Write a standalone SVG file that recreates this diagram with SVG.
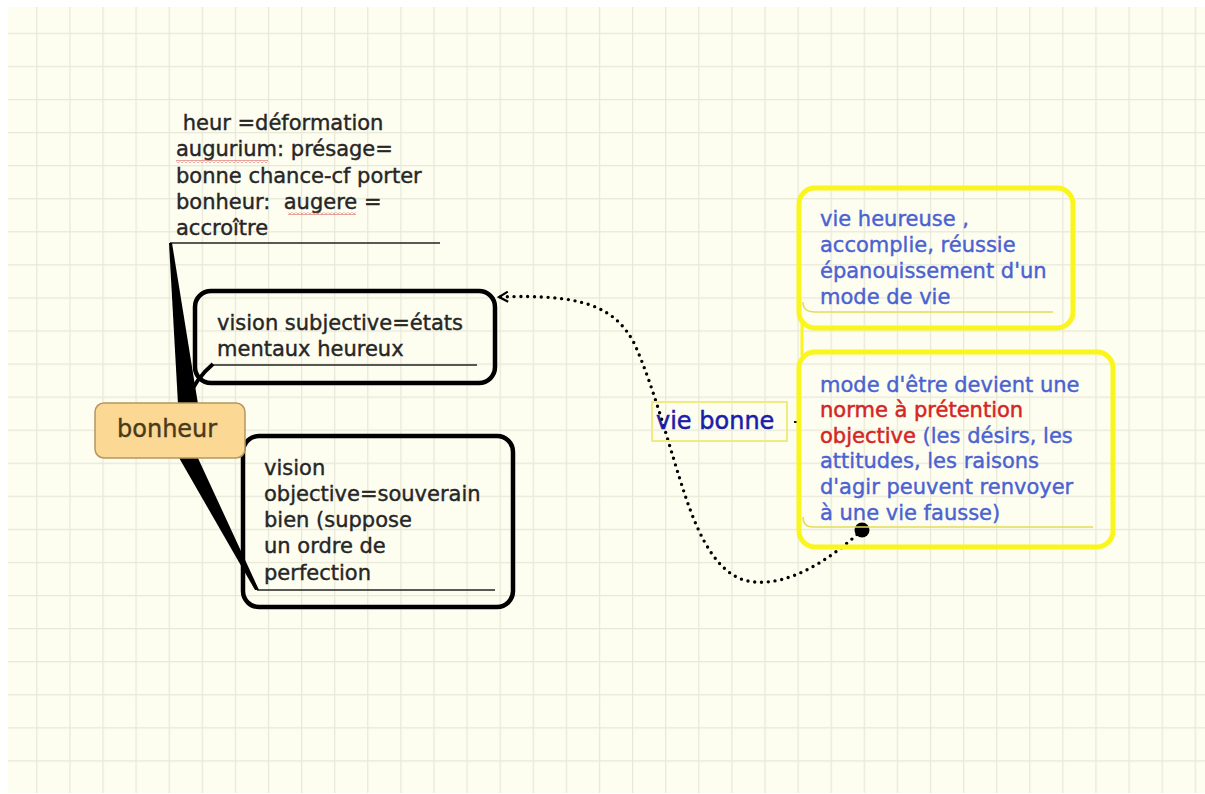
<svg xmlns="http://www.w3.org/2000/svg" width="1205" height="794" viewBox="0 0 1205 794">
<defs>
<pattern id="grid" patternUnits="userSpaceOnUse" x="3.1" y="-0.3" width="33.1" height="33.07">
<path d="M0,0.6 L33.1,0.6 M0.6,0 L0.6,33.07" stroke="#e8e8d8" stroke-width="1.2" fill="none"/>
</pattern>
<pattern id="squig" patternUnits="userSpaceOnUse" x="0" y="0" width="4" height="3">
<path d="M0,2.5 L2,0.5 L4,2.5" stroke="#d04848" stroke-width="1" fill="none"/>
</pattern>
<marker id="openArrow" viewBox="0 0 12 12" refX="10" refY="6" markerWidth="12" markerHeight="12" markerUnits="userSpaceOnUse" orient="auto">
<path d="M1,1 L10,6 L1,11" fill="none" stroke="#000" stroke-width="2.2"/>
</marker>
</defs>
<style>
text{font-family:"DejaVu Sans","Liberation Sans",sans-serif;font-size:21px;}
.dark{fill:#262626;stroke:#262626;stroke-width:0.4;}
.blue{fill:#4a62d2;stroke:#4a62d2;stroke-width:0.4;}
.red{fill:#d42626;stroke:#d42626;stroke-width:0.5;}
.blk{fill:none;stroke:#000;stroke-width:4.5;}
.ylw{fill:none;stroke:#faf51c;stroke-width:5;}
.uline{fill:none;stroke:#222;stroke-width:1.5;}
.yline{fill:none;stroke:#e4dc58;stroke-width:1.5;}
</style>
<rect x="0" y="0" width="1205" height="794" fill="#ffffff"/>
<rect x="8" y="7" width="1197" height="786" fill="#fdfdf0"/>
<rect x="8" y="7" width="1197" height="786" fill="url(#grid)"/>

<g id="note-etymologie">
<text class="dark" x="176" y="130" xml:space="preserve"> heur =déformation</text>
<text class="dark" x="176" y="156">augurium: présage=</text>
<text class="dark" x="176" y="183">bonne chance-cf porter</text>
<text class="dark" x="176" y="209" xml:space="preserve">bonheur:  augere =</text>
<text class="dark" x="176" y="235">accroître</text>
<rect x="176" y="160" width="92" height="3" fill="url(#squig)"/>
<rect x="288" y="212" width="68" height="3" fill="url(#squig)"/>
<path class="uline" d="M170,243 L440,243"/>
</g>

<g id="vision-subjective">
<rect class="blk" x="195" y="291" width="300" height="92" rx="16"/>
<text class="dark" x="217" y="330">vision subjective=états</text>
<text class="dark" x="217" y="356">mentaux heureux</text>
<path class="uline" d="M212,365 L477,365"/>
</g>

<g id="vision-objective">
<rect class="blk" x="243" y="436" width="270" height="171" rx="16"/>
<text class="dark" x="264" y="475">vision</text>
<text class="dark" x="264" y="501">objective=souverain</text>
<text class="dark" x="264" y="527">bien (suppose</text>
<text class="dark" x="264" y="553">un ordre de</text>
<text class="dark" x="264" y="580">perfection</text>
<path class="uline" d="M257,590 L495,590"/>
</g>

<g id="connectors">
<polygon points="169,243 172,243 198,404 178,404" fill="#000"/>
<path d="M186,402 Q196,378 213,364" fill="none" stroke="#000" stroke-width="4"/>
<polygon points="178,456 197,456 259,590 255,590" fill="#000"/>
<path d="M862,530 C830,560 790,585 755,582 C720,580 700,540 685,495 C670,450 655,390 635,345 C615,305 580,294 499,297" fill="none" stroke="#000" stroke-width="3.4" stroke-linecap="round" stroke-dasharray="0 6.8" marker-end="url(#openArrow)"/>
<circle cx="862" cy="530" r="7.5" fill="#000"/>
<path d="M802,322 L802,356" fill="none" stroke="#faf51c" stroke-width="3"/>
<path d="M794,422 L800,422" stroke="#111" stroke-width="2"/>
</g>

<g id="bonheur">
<rect x="95" y="403" width="150" height="55" rx="9" fill="#fbd894" stroke="#b49660" stroke-width="1.5"/>
<text x="117" y="437" style="font-size:24px;fill:#4a3a1c;stroke:#4a3a1c;stroke-width:0.4">bonheur</text>
</g>

<g id="vie-bonne">
<rect x="652" y="402" width="135" height="39" fill="none" stroke="#efeb80" stroke-width="2"/>
<text x="656" y="429" style="font-size:24px;fill:#1c1caa;stroke:#1c1caa;stroke-width:0.5">vie bonne</text>
</g>

<g id="vie-heureuse">
<rect class="ylw" x="799" y="188" width="274" height="140" rx="16"/>
<text class="blue" x="820" y="226">vie heureuse ,</text>
<text class="blue" x="820" y="252">accomplie, réussie</text>
<text class="blue" x="820" y="278">épanouissement d'un</text>
<text class="blue" x="820" y="304">mode de vie</text>
<path class="yline" d="M803,302 Q803,312 815,312 L1053,312"/>
</g>

<g id="norme">
<rect class="ylw" x="799" y="352" width="314" height="195" rx="16"/>
<text class="blue" x="820" y="392">mode d'être devient une</text>
<text class="red" x="820" y="417">norme à prétention</text>
<text x="820" y="443"><tspan class="red">objective</tspan><tspan class="blue"> (les désirs, les</tspan></text>
<text class="blue" x="820" y="468">attitudes, les raisons</text>
<text class="blue" x="820" y="494">d'agir peuvent renvoyer</text>
<text class="blue" x="820" y="520">à une vie fausse)</text>
<path class="yline" d="M803,517 Q803,527 813,527 L1093,527"/>
</g>
</svg>
